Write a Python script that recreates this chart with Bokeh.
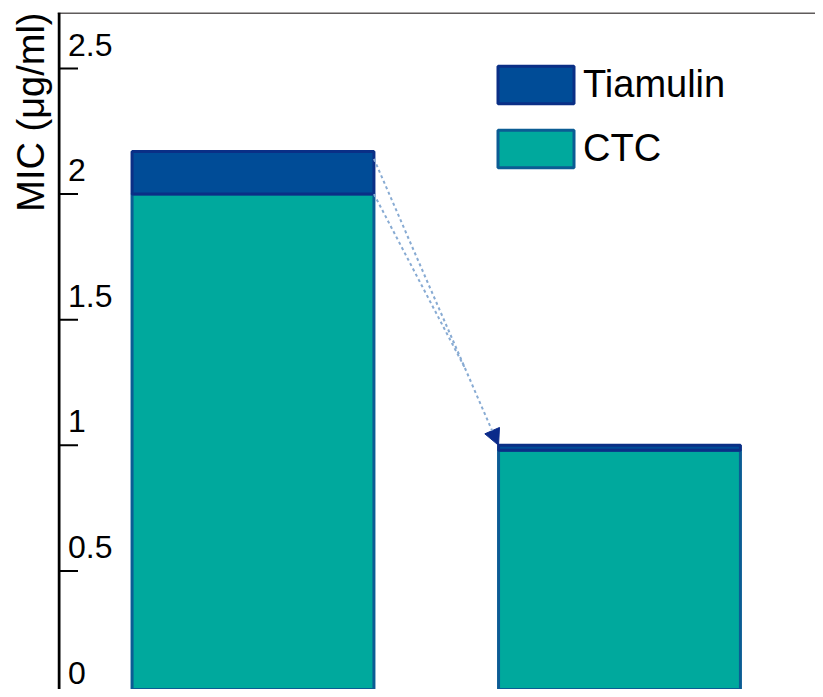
from bokeh.plotting import figure
from bokeh.models import (Range1d, Legend, LegendItem, Arrow, NormalHead, Span, Title)
from bokeh.core.properties import value
from bokeh.embed import file_html
from bokeh.resources import INLINE

# ---- data ----
groups = [1, 2]
ctc = [2.0, 0.98]
tiamulin = [0.17, 0.02]
series_names = ["Tiamulin", "CTC"]
y_ticks = [0, 0.5, 1, 1.5, 2, 2.5]
y_tick_labels = ["0", "0.5", "1", "1.5", "2", "2.5"]
y_label = "MIC (μg/ml)"

totals = [c + t for c, t in zip(ctc, tiamulin)]

FONT = "'Liberation Sans', Arial, sans-serif"
W = 0.66
LEFT = 57                       # frame left in px
FW = 815 - LEFT                 # frame width in px
PX_PER_X = 366.5
X0 = 0.4666
X1 = X0 + FW / PX_PER_X
Y0, Y1 = 0.028, 2.723
PX_PER_Y = (689 - 12) / (Y1 - Y0)
XA = X0 + 1.5 / PX_PER_X        # y-axis line position
TICK = 19 / PX_PER_X            # tick length (19 px) in data units
LIFT = 24 / PX_PER_Y            # tick label centres sit 24 px above their tick

p = figure(width=815, height=689, output_backend="svg", toolbar_location=None,
           x_range=Range1d(X0, X1), y_range=Range1d(Y0, Y1),
           x_axis_location=None, y_axis_location=None,
           min_border_left=LEFT, min_border_right=0, min_border_top=12, min_border_bottom=0)
p.outline_line_color = None
p.xgrid.visible = False
p.ygrid.visible = False
p.background_fill_color = "white"

# y-axis title: left title anchored at the top of the frame
p.add_layout(Title(text=y_label, align="right", text_font_size="38px", text_font=FONT,
                   text_font_style="normal", text_color="black", standoff=11, offset=0),
             "left")

# top frame line
p.add_layout(Span(location=Y1, dimension="width", line_color="#5F5B5B", line_width=3))

# bars
r_ctc = p.vbar(x=groups, bottom=0, top=ctc, width=W, fill_color="#00A99D",
               line_color="#0B5C94", line_width=3)
r_tia = p.vbar(x=groups, bottom=ctc, top=totals, width=W, fill_color="#004C97",
               line_color="#0A2F86", line_width=3)

# y axis line + inward ticks
p.add_layout(Span(location=XA, dimension="height", line_color="black", line_width=3))
p.segment(x0=[XA] * len(y_ticks), y0=y_ticks, x1=[XA + TICK] * len(y_ticks), y1=y_ticks,
          line_color="black", line_width=2)

# tick labels inside the plot, just above each tick
p.text(x=[XA] * len(y_ticks), y=[t + LIFT for t in y_ticks], text=y_tick_labels,
       x_offset=9, text_baseline="middle", text_align="left", text_font=value(FONT),
       text_font_size="32px", text_color="black")

# arrow from bar 1 to bar 2
x1r = groups[0] + W / 2
x2l = groups[1] - W / 2
ys = totals[0] - 0.03
p.add_layout(Arrow(x_start=x1r, y_start=ys, x_end=x2l, y_end=totals[1],
                   line_color="#88ABD3", line_dash="3 3", line_width=2,
                   end=NormalHead(size=16, fill_color="#0A2A8A", line_color="#0A2A8A")))
frac = 0.73
mx = x1r + frac * (x2l - x1r)
my = ys + frac * (totals[1] - ys)
p.segment(x0=[x1r], y0=[ctc[0]], x1=[mx], y1=[my], line_color="#88ABD3",
          line_dash="3 3", line_width=2)

legend = Legend(items=[LegendItem(label=series_names[0], renderers=[r_tia]),
                       LegendItem(label=series_names[1], renderers=[r_ctc])],
                location=(431, 517), glyph_width=95, glyph_height=47, label_standoff=0,
                spacing=17, padding=0, margin=0, border_line_color=None,
                background_fill_alpha=0, label_text_font=FONT,
                label_text_font_size="38px", label_text_color="black")
p.add_layout(legend)

open("out.html", "w").write(file_html(p, INLINE))
